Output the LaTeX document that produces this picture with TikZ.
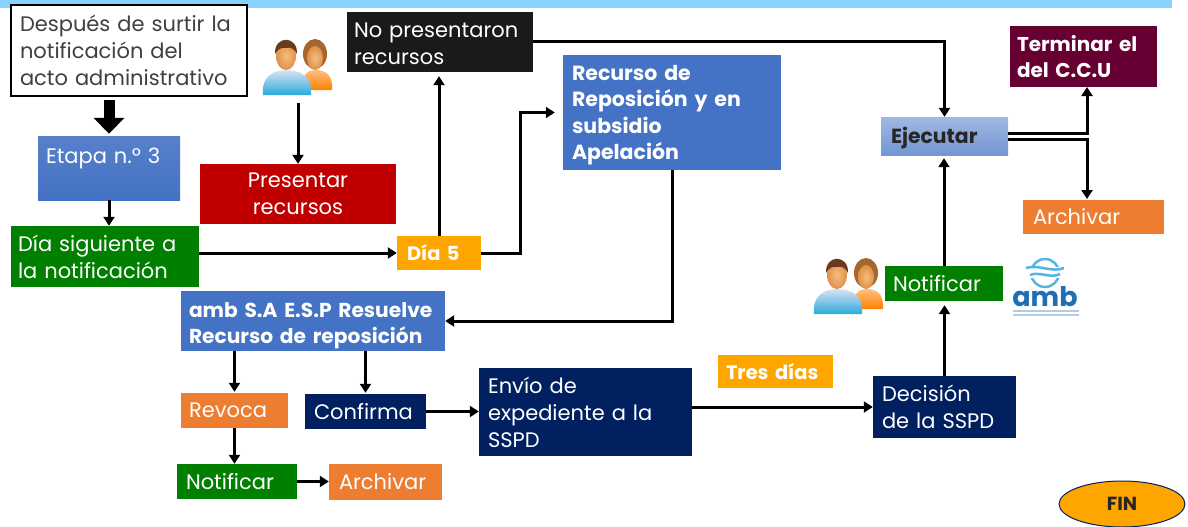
\documentclass[tikz,border=0pt]{standalone}
\usepackage{fontspec}
\setmainfont{Poppins}
\usetikzlibrary{arrows.meta,calc,shapes.geometric}
\definecolor{cblue}{HTML}{4472C4}
\definecolor{cred}{HTML}{C00000}
\definecolor{cgreen}{HTML}{007F00}
\definecolor{cyel}{HTML}{FFA500}
\definecolor{corg}{HTML}{ED7D31}
\definecolor{cnavy}{HTML}{002060}
\definecolor{cwine}{HTML}{660033}
\definecolor{cblack}{HTML}{1A1A1A}
\definecolor{cband}{HTML}{87D2FF}
\definecolor{cskin}{HTML}{F5BE80}
\definecolor{cskind}{HTML}{DE9148}
\definecolor{chair}{HTML}{6B3A1E}
\definecolor{chairb}{HTML}{A5662F}
\definecolor{clogo}{HTML}{1F6FB5}
\definecolor{cwave}{HTML}{55B4E6}
\newcommand{\tallfirst}[1]{\rule{0pt}{#1pt}}
\tikzset{
  boxbase/.style={minimum height=#1,inner xsep=0pt,inner ysep=0pt,align=left,font=\fontsize{21}{27}\selectfont,text=white},
  boldtext/.style={font=\fontsize{#1}{26.5}\selectfont\bfseries},
  conn/.style={draw=black,line width=3pt,-{Triangle[length=9pt,width=11pt]}},
  bigarrow/.style={draw=black,line width=11pt,-{Triangle[length=16pt,width=30pt]}},
  people/.pic={
    \fill[chairb] (17,-13) ellipse (12 and 15);
    \shade[top color=orange!50,bottom color=orange] (5,23) .. controls (3,8) and (10,3) .. (17,3) .. controls (28,3) and (35,8) .. (34,23) -- cycle;
    \shade[inner color=cskin,outer color=cskind] (17,-9) ellipse (8 and 12);
    \shade[top color=cblue!20,bottom color=cblue!60!cyan] (-35,28) .. controls (-37,10) and (-25,3) .. (-12,3) .. controls (3,3) and (15,10) .. (13,28) -- cycle;
    \shade[inner color=cskin,outer color=cskind] (-12,-11) ellipse (10 and 14);
    \fill[chair] (-23,-13) .. controls (-24,-32) and (0,-32) .. (-1,-13) .. controls (-4,-19) and (-8,-20) .. (-12,-19) .. controls (-17,-20) and (-20,-18) .. (-23,-13) -- cycle;
  }
}
\begin{document}
\begin{tikzpicture}[x=1pt,y=-1pt]
\useasboundingbox (0,0) rectangle (1188,527);
\fill[cband] (0,0) rectangle (1172,8);

\node[boxbase=91pt,draw=black,line width=2pt,fill=white,text=black!75,minimum width=236pt,text width=218pt] (despues) at (129,50.5) {Después de surtir la\\notificación del\\acto administrativo};
\node[boxbase=64pt,top color=cblue!90!white,bottom color=cblue,minimum width=142pt,text width=126pt] (etapa) at (109,168) {\rule[-24pt]{0pt}{24pt}Etapa n.º 3};
\node[boxbase=60pt,fill=cred,minimum width=196pt,text width=196pt,align=center] (presentar) at (298,194) {Presentar\\recursos};
\node[boxbase=61pt,fill=cgreen,minimum width=188pt,text width=174pt] (diasig) at (105,256.5) {Día siguiente a\\la notificación};
\node[boxbase=34pt,fill=cyel,minimum width=84pt,text width=64pt,boldtext=19.4] (dia5) at (439,253) {Día 5};
\node[boxbase=60pt,fill=cblack,minimum width=186pt,text width=172pt] (nopres) at (440,42) {\tallfirst{18}No presentaron\\recursos};
\node[boxbase=115pt,fill=cblue,minimum width=218pt,text width=200pt,boldtext=20.5] (recurso) at (672,112.5) {\tallfirst{20}Recurso de\\Reposición y en\\subsidio\\Apelación};
\node[boxbase=60pt,fill=cblue,minimum width=264pt,text width=248pt,boldtext=20.2] (amb) at (313,321) {\tallfirst{24}amb S.A E.S.P Resuelve\\Recurso de reposición};
\node[boxbase=35pt,fill=corg,minimum width=107pt,text width=91pt] (revoca) at (234.5,410.5) {Revoca};
\node[boxbase=35pt,fill=cnavy,minimum width=121pt,text width=103pt] (confirma) at (365.5,411.5) {Confirma};
\node[boxbase=88pt,fill=cnavy,minimum width=213pt,text width=195pt] (envio) at (585.5,412) {Envío de\\expediente a la\\SSPD};
\node[boxbase=35pt,fill=cgreen,minimum width=120pt,text width=102pt] (notif) at (237,481.5) {Notificar};
\node[boxbase=36pt,fill=corg,minimum width=113pt,text width=93pt] (arch) at (385.5,482) {Archivar};
\node[boxbase=33pt,fill=cyel,minimum width=115pt,text width=99pt,boldtext=19.4] (tres) at (775.5,371.5) {Tres días};
\node[boxbase=62pt,fill=cnavy,minimum width=143pt,text width=125pt] (decision) at (944.5,407) {Decisión\\de la SSPD};
\node[boxbase=35pt,fill=cgreen,minimum width=118pt,text width=102pt] (notifb) at (944,283.5) {Notificar};
\node[boxbase=38pt,top color=cblue!50!white,bottom color=cblue!75!white,minimum width=127pt,text width=107pt,text=black!85,boldtext=20.4] (ejecutar) at (944.5,136) {\tallfirst{21}Ejecutar};
\node[boxbase=61pt,fill=cwine,minimum width=147pt,text width=133pt,boldtext=20] (terminar) at (1083.5,56.5) {Terminar el\\del C.C.U};
\node[boxbase=34pt,fill=corg,minimum width=141pt,text width=121pt] (archb) at (1093.5,217) {Archivar};
\node[ellipse,draw=cnavy,line width=1pt,fill=cyel,minimum width=126pt,minimum height=46pt,inner sep=0pt,text=black!85,font=\fontsize{19}{20}\selectfont\bfseries] (fin) at (1122,504) {FIN};

% people icons
\coordinate (pa) at (298,67);
\coordinate (pb) at (849,286);
\pic at (pa) {people};
\pic at (pb) {people};
\coordinate (pastart) at (298,103);

% amb logo
\coordinate (logo) at (1045,273);
\draw[cwave,line width=2.5pt] (logo) circle (14);
\fill[white] ($(logo)+(-19,-6)$) rectangle ($(logo)+(19,5)$);
\draw[cwave,line width=2.5pt] ($(logo)+(-19,-5)$) .. controls ($(logo)+(-6,-9)$) and ($(logo)+(6,0)$) .. ($(logo)+(19,-5)$);
\draw[cwave,line width=2.5pt] ($(logo)+(-15,2)$) .. controls ($(logo)+(-6,-2)$) and ($(logo)+(6,6)$) .. ($(logo)+(15,1)$);
\node[text=clogo,font=\fontsize{27}{27}\selectfont\bfseries,inner sep=0pt] (logotext) at (1045,297) {amb};
\draw[clogo!35,line width=1.2pt] (1013,311) -- (1079,311);
\draw[clogo!35,line width=1.2pt] (1013,315) -- (1079,315);

% connectors
\draw[bigarrow] ([yshift=-3pt]despues.south -| etapa.north) -- ([yshift=2pt]etapa.north);
\draw[conn] (etapa.south) -- (etapa.south |- diasig.north);
\draw[conn] (pastart) -- (presentar.north);
\draw[conn] (diasig.east |- dia5.west) -- (dia5.west);
\draw[conn] (dia5.north) -- ([yshift=-4pt]dia5.north |- nopres.south);
\draw[conn,shorten >=8pt] (dia5.east) -- ++(39,0) |- (recurso.west);
\draw[conn] (recurso.south) |- (amb.east);
\draw[conn] (revoca.north |- amb.south) -- ([yshift=1pt]revoca.north);
\draw[conn] (confirma.north |- amb.south) -- ([yshift=1pt]confirma.north);
\draw[conn] (revoca.south) -- (revoca.south |- notif.north);
\draw[conn] (notif.east) -- (notif.east -| arch.west);
\draw[conn] (confirma.east) -- (confirma.east -| envio.west);
\draw[conn] ([yshift=5pt]envio.east) -- ([yshift=5pt]envio.east -| decision.west);
\draw[conn] (decision.north) -- ([yshift=-4pt]decision.north |- notifb.south);
\draw[conn] (notifb.north) -- ([yshift=-3pt]notifb.north |- ejecutar.south);
\draw[conn] (nopres.east) -| (ejecutar.north);
\coordinate (up) at (1087,87);
\coordinate (down) at (1087,199);
\draw[conn] ([yshift=3pt]ejecutar.east) -| (up);
\draw[conn] ([yshift=-3pt]ejecutar.east) -| (down);
\end{tikzpicture}
\end{document}
